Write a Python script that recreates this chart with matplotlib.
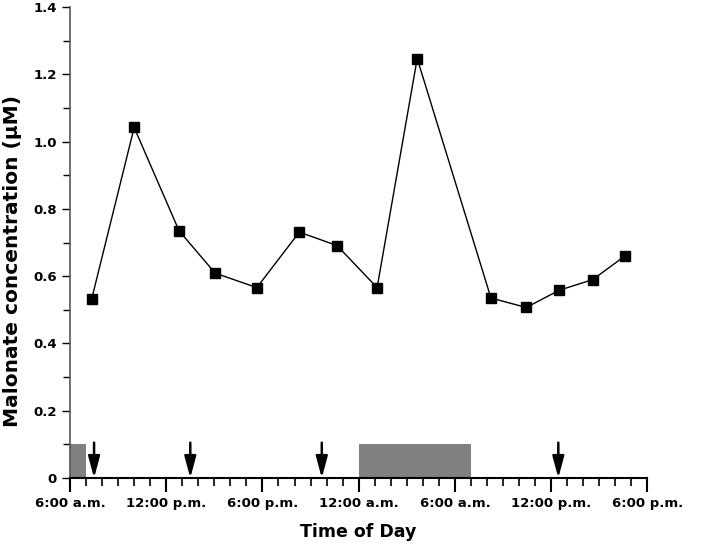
import numpy as np
import matplotlib
matplotlib.use('Agg')
import matplotlib.pyplot as plt
from matplotlib.ticker import MultipleLocator

plt.rcParams['font.family'] = ['DejaVu Sans']
plt.rcParams['font.weight'] = 'bold'

# hours counted from midnight of day 1 (6 = 6:00 a.m., 42 = 6:00 p.m. next day)
hours = [7.35, 10.0, 12.8, 15.05, 17.65, 20.3, 22.65, 25.15, 27.65, 32.25, 34.45, 36.5, 38.6, 40.6]
malonate = [0.532, 1.042, 0.735, 0.609, 0.566, 0.731, 0.691, 0.566, 1.247, 0.535, 0.507, 0.558, 0.590, 0.660]

# dark periods (start, end in hours) and dosing times
dark_start = [6, 24]
dark_end = [7, 31]
dose_times = [7.5, 13.5, 21.7, 36.45]

tick_hours = [6, 12, 18, 24, 30, 36, 42]
tick_labels = ['6:00 a.m.', '12:00 p.m.', '6:00 p.m.', '12:00 a.m.', '6:00 a.m.', '12:00 p.m.', '6:00 p.m.']

fig = plt.figure(figsize=(7.03, 5.44), dpi=100)
ax = fig.add_axes([0.0996, 0.1213, 0.8212, 0.8657])

ax.bar(dark_start, 0.1, width=np.array(dark_end) - np.array(dark_start), align='edge',
       color='#808080', edgecolor='none', zorder=1)

for t in dose_times:
    ax.annotate('', xy=(t, 0.0), xytext=(t, 0.105),
                arrowprops=dict(arrowstyle='-|>,head_length=1.3,head_width=0.35',
                                color='black', lw=1.8, shrinkA=0, shrinkB=0))

ax.plot(hours, malonate, color='black', lw=1, marker='s', markersize=7,
        markerfacecolor='black', markeredgecolor='black', zorder=3)

ax.set_xlim(6, 42)
ax.set_ylim(0, 1.4)
ax.set_xticks(tick_hours)
ax.set_xticklabels(tick_labels)
ax.xaxis.set_minor_locator(MultipleLocator(1))
ax.set_yticks(np.arange(0, 1.41, 0.2))
ax.set_yticklabels(['0', '0.2', '0.4', '0.6', '0.8', '1.0', '1.2', '1.4'])
ax.yaxis.set_minor_locator(MultipleLocator(0.1))

ax.spines['top'].set_visible(False)
ax.spines['right'].set_visible(False)
ax.spines['left'].set_color('#555555')
ax.spines['left'].set_linewidth(1.2)
ax.spines['bottom'].set_linewidth(1.5)

ax.tick_params(axis='x', which='major', length=10, width=1.5, labelsize=9.5, pad=3.5)
ax.tick_params(axis='x', which='minor', length=6, width=1.2)
ax.tick_params(axis='y', which='major', length=6, width=1, labelsize=9.5, pad=3.5)
ax.tick_params(axis='y', which='minor', length=5, width=1)

ax.set_xlabel('Time of Day', fontsize=12.5, fontweight='bold')
ax.xaxis.set_label_coords(0.5, -0.095)
ax.set_ylabel('Malonate concentration (\u03bcM)', fontsize=14.5, fontweight='bold')
ax.yaxis.set_label_coords(-0.083, 0.46)

fig.savefig('out.png', dpi=100)
